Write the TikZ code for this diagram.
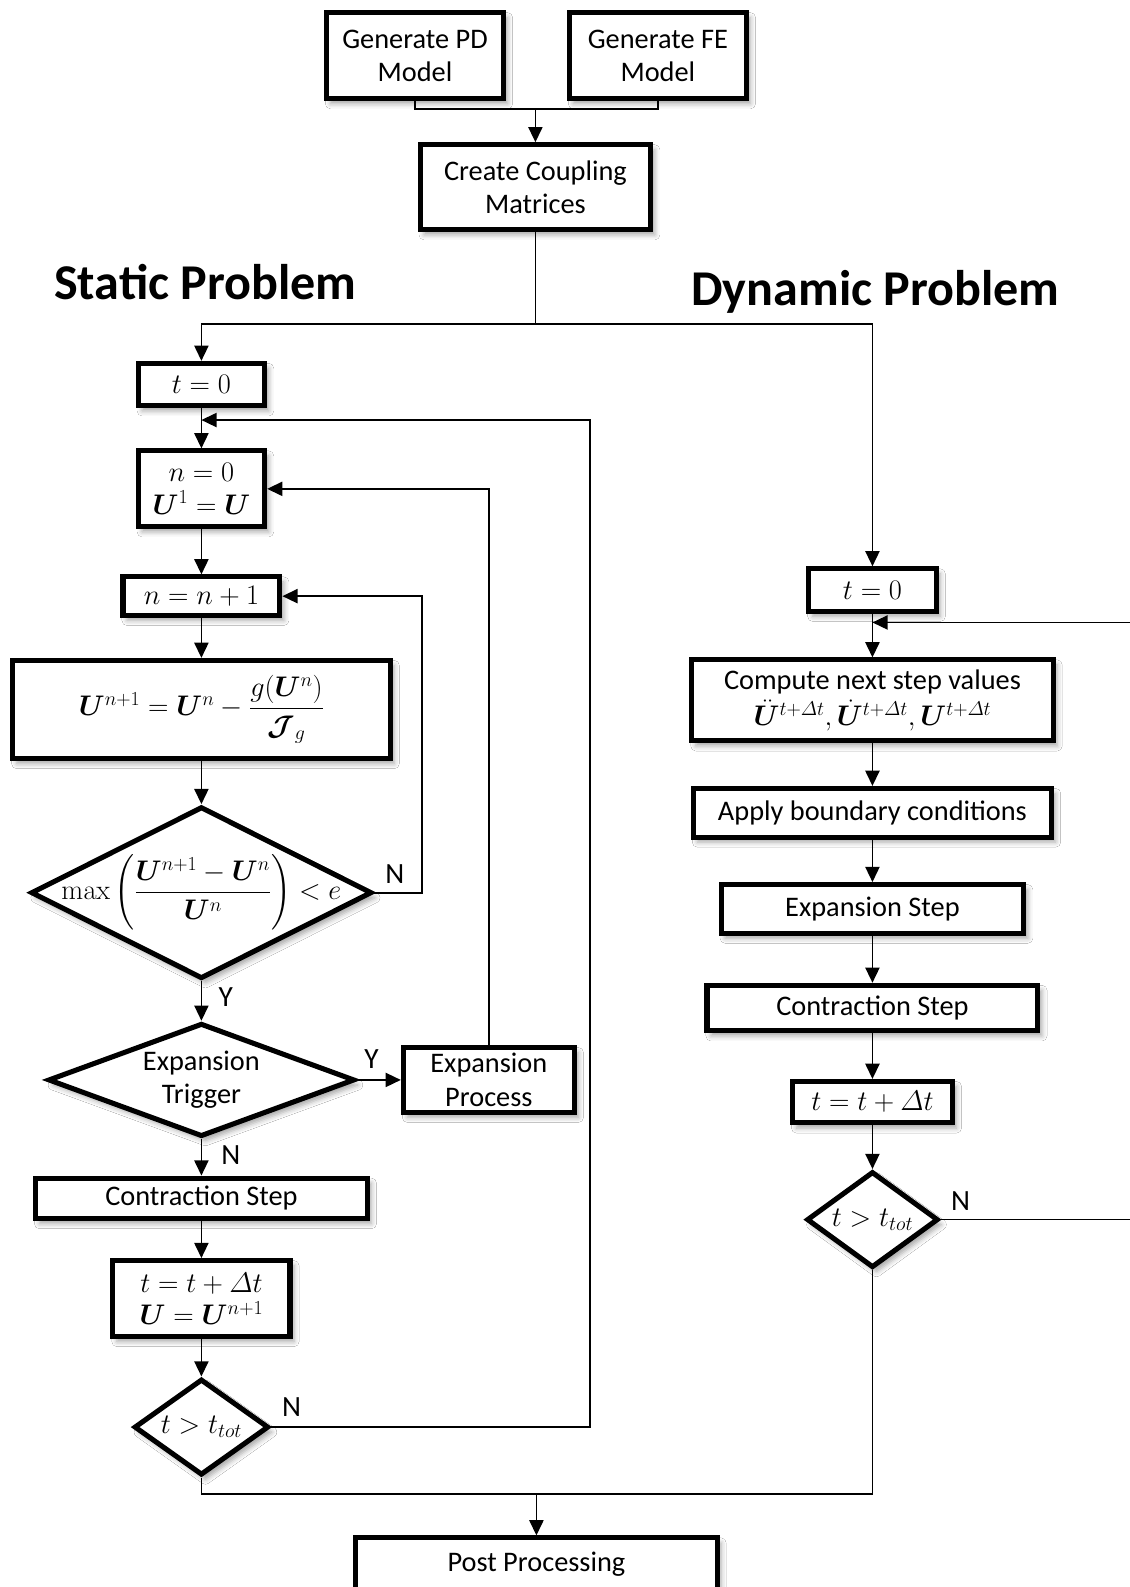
\RequirePackage{fix-cm}
\documentclass[tikz,border=0pt]{standalone}
\usepackage{amsmath}
\usepackage{bm}
\usepackage[no-math]{fontspec}
\setmainfont{Carlito}
\usetikzlibrary{shapes.geometric,arrows.meta,shadows.blur}
\tikzset{
  shd/.style={blur shadow={shadow xshift=4pt,shadow yshift=-5pt,shadow blur radius=5pt,shadow opacity=35}},
  box/.style={draw,line width=5pt,fill=white,shd,align=center,inner sep=0pt,
    font=\fontsize{28}{33}\selectfont},
  dia/.style={diamond,draw,line width=5pt,fill=white,shd,align=center,inner sep=-150pt,
    font=\fontsize{28}{33}\selectfont},
  arr/.style={line width=1.6pt,-{Triangle[length=15pt,width=14pt]}},
  ln/.style={line width=1.6pt},
  lbl/.style={font=\fontsize{29}{33}\selectfont,inner sep=0pt},
  ttl/.style={font=\fontsize{49.5}{55}\selectfont\bfseries,inner sep=0pt}
}
\begin{document}
\begin{tikzpicture}[x=1pt,y=-1pt]
\fill[white] (0,0) rectangle (1116,1568);
\useasboundingbox (0,0) rectangle (1116,1568);

% top
\node[box,minimum width=175pt,minimum height=85pt] (pd) at (410,55) {Generate PD\\Model};
\node[box,minimum width=175pt,minimum height=85pt] (fe) at (650,55) {Generate FE\\Model};
\node[box,minimum width=228pt,minimum height=84pt] (cc) at (529,185) {Create Coupling\\Matrices};
\coordinate (j1) at (529,108);
\coordinate (split) at (529,320);

\node[ttl] (tst) at (203,279) {Static Problem};
\node[ttl] (tdy) at (865,288) {Dynamic Problem};

% static column
\node[box,minimum width=125pt,minimum height=42pt] (st0) at (199,380) {$t = 0$};
\node[box,minimum width=125pt,minimum height=75pt] (n0) at (199,483) {$n = 0$\\[-1pt]$\bm{U}^1 = \bm{U}$};
\node[box,minimum width=155pt,minimum height=38pt] (ninc) at (199,589) {$n = n + 1$};
\node[box,minimum width=373pt,minimum height=97pt] (upd) at (199,701) {$\bm{U}^{n+1} = \bm{U}^n - \dfrac{g(\bm{U}^n)}{\bm{\mathcal{J}}_g}$};
\node[dia,minimum width=337pt,minimum height=170pt] (conv) at (199,882) {$\max\left(\dfrac{\bm{U}^{n+1} - \bm{U}^n}{\bm{U}^n}\right) < e$};
\node[dia,minimum width=303pt,minimum height=112pt] (trig) at (199,1067) {Expansion\\Trigger};
\node[box,minimum width=169pt,minimum height=64pt] (expp) at (483,1067) {Expansion\\Process};
\node[box,minimum width=328pt,minimum height=40pt] (cs) at (199,1184) {Contraction Step};
\node[box,minimum width=175pt,minimum height=75pt] (tup) at (199,1283) {$t = t + \varDelta t$\\[-1pt]$\bm{U} = \bm{U}^{n+1}$};
\node[dia,minimum width=133pt,minimum height=95pt] (tend) at (199,1410) {$t > t_{tot}$};

% dynamic column
\node[box,minimum width=126pt,minimum height=42pt] (dt0) at (862,583) {$t = 0$};
\node[box,minimum width=357pt,minimum height=80pt] (comp) at (862,692) {Compute next step values\\[3pt]$\ddot{\bm{U}}^{t+\varDelta t}, \dot{\bm{U}}^{t+\varDelta t}, \bm{U}^{t+\varDelta t}$};
\node[box,minimum width=354pt,minimum height=48pt] (abc) at (862,803) {Apply boundary conditions};
\node[box,minimum width=299pt,minimum height=48pt] (es) at (862,898) {Expansion Step};
\node[box,minimum width=327pt,minimum height=45pt] (dcs) at (862,996) {Contraction Step};
\node[box,minimum width=158pt,minimum height=41pt] (dtup) at (862,1089) {$t = t + \varDelta t$};
\node[dia,minimum width=130pt,minimum height=95pt] (dend) at (862,1205) {$t > t_{tot}$};

% bottom
\node[box,minimum width=357pt,minimum height=51pt] (pp) at (530,1545) {Post Processing};

% coordinates
\coordinate (fbL) at (583,415);
\coordinate (fbT) at (199,415);
\coordinate (nl) at (417,882);
\coordinate (bj) at (530,1476);
\coordinate (rfb) at (1122,615);
\coordinate (rfbT) at (862,615);

% connectors top
\draw[ln] (pd.south) |- (j1) -| (fe.south);
\draw[arr] (j1) -- (cc.north);
\draw[ln] (cc.south) -- (split);
\draw[arr] (split) -| (st0.north);
\draw[arr] (split) -| (dt0.north);

% static
\draw[arr] (st0.south) -- (n0.north);
\draw[arr] (tend.east) -| (fbL) -- (fbT);
\draw[arr] (n0.south) -- (ninc.north);
\draw[arr] (expp.north) |- (n0.east);
\draw[arr] (ninc.south) -- (upd.north);
\draw[arr] (upd.south) -- (conv.north);
\draw[arr] (conv.east) -- (nl) |- (ninc.east);
\draw[arr] (conv.south) -- (trig.north);
\draw[arr] (trig.east) -- (expp.west);
\draw[arr] (trig.south) -- (cs.north);
\draw[arr] (cs.south) -- (tup.north);
\draw[arr] (tup.south) -- (tend.north);

% dynamic
\draw[arr] (dt0.south) -- (comp.north);
\draw[arr] (dend.east) -| (rfb) -- (rfbT);
\draw[arr] (comp.south) -- (abc.north);
\draw[arr] (abc.south) -- (es.north);
\draw[arr] (es.south) -- (dcs.north);
\draw[arr] (dcs.south) -- (dtup.north);
\draw[arr] (dtup.south) -- (dend.north);

% bottom join
\draw[ln] (tend.south) |- (bj) -| (dend.south);
\draw[arr] (bj) -- (pp.north);

% labels
\node[lbl] (l1) at (390,864) {N};
\node[lbl] (l2) at (223,985) {Y};
\node[lbl] (l3) at (367,1046) {Y};
\node[lbl] (l4) at (228,1141) {N};
\node[lbl] (l5) at (288,1390) {N};
\node[lbl] (l6) at (949,1187) {N};
\end{tikzpicture}
\end{document}
